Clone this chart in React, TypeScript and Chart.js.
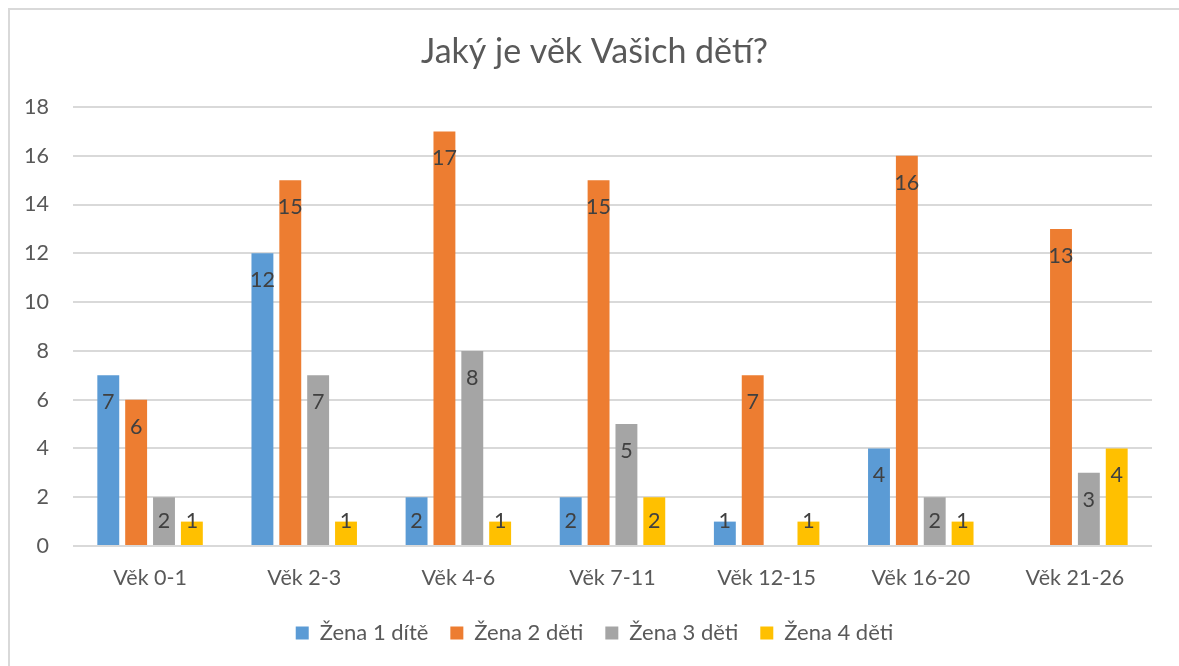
import React, { useEffect, useRef } from 'react';
import { Chart, registerables } from 'chart.js';

Chart.register(...registerables);

const chartTitle = 'Jaký je věk Vašich dětí?';
const categories = ['Věk 0-1', 'Věk 2-3', 'Věk 4-6', 'Věk 7-11', 'Věk 12-15', 'Věk 16-20', 'Věk 21-26'];
const seriesNames = ['Žena 1 dítě', 'Žena 2 děti', 'Žena 3 děti', 'Žena 4 děti'];
const zena1 = [7, 12, 2, 2, 1, 4, null];
const zena2 = [6, 15, 17, 15, 7, 16, 13];
const zena3 = [2, 7, 8, 5, null, 2, 3];
const zena4 = [1, 1, 1, 2, 1, 1, 4];
const seriesColors = ['#5B9BD5', '#ED7D31', '#A5A5A5', '#FFC000'];
const yMin = 0;
const yMax = 18;
const yStep = 2;

const FONT = 'Lato';
const TEXT = '#595959';
const LABEL = '#404040';
const GRID = '#d9d9d9';

const barLabels = {
  id: 'barLabels',
  afterDatasetsDraw(chart: any) {
    const ctx = chart.ctx;
    const base = chart.scales.y.getPixelForValue(0);
    ctx.save();
    ctx.font = `21.5px ${FONT}`;
    ctx.fillStyle = LABEL;
    ctx.textAlign = 'center';
    ctx.textBaseline = 'middle';
    chart.data.datasets.forEach((ds: any, i: number) => {
      const meta = chart.getDatasetMeta(i);
      meta.data.forEach((bar: any, j: number) => {
        const v = ds.data[j];
        if (v === null || v === undefined) return;
        const y = Math.min(bar.y + 27, base - 25);
        ctx.fillText(String(v), bar.x, y);
      });
    });
    ctx.restore();
  },
};

export default function App() {
  const ref = useRef<HTMLCanvasElement | null>(null);
  useEffect(() => {
    document.documentElement.style.overflow = 'hidden';
    document.body.style.overflow = 'hidden';
    if (!ref.current) return;
    const all = [zena1, zena2, zena3, zena4];
    const chart = new Chart(ref.current, {
      type: 'bar',
      data: {
        labels: categories,
        datasets: all.map((d, i) => ({
          label: seriesNames[i],
          data: d,
          backgroundColor: seriesColors[i],
          borderWidth: 0,
          categoryPercentage: 0.723,
          barPercentage: 0.786,
        })),
      },
      options: {
        animation: false,
        responsive: false,
        devicePixelRatio: 1,
        layout: { padding: { left: 0, right: 0, top: 0, bottom: 12 } },
        plugins: {
          title: {
            display: true,
            text: chartTitle,
            color: TEXT,
            font: { family: FONT, size: 34, weight: 'normal' as any },
            padding: { top: 21.6, bottom: 34.6 },
          },
          legend: {
            position: 'bottom',
            labels: {
              boxWidth: 13,
              boxHeight: 13,
              color: TEXT,
              font: { family: FONT, size: 22 },
              padding: 22,
            },
          },
          tooltip: { enabled: false },
        },
        scales: {
          x: {
            grid: { display: false },
            border: { display: false },
            ticks: { color: TEXT, font: { family: FONT, size: 21.5 }, padding: 11 },
            afterFit: (s: any) => { s.height = 54; },
          },
          y: {
            min: yMin,
            max: yMax,
            ticks: { stepSize: yStep, color: TEXT, font: { family: FONT, size: 21.5 }, padding: 24 },
            grid: { color: GRID, lineWidth: 2, drawTicks: false },
            border: { display: false },
            afterFit: (s: any) => { s.width = 63; },
          },
          yRightSpace: {
            type: 'linear',
            position: 'right',
            display: true,
            grid: { display: false, drawTicks: false },
            border: { display: false },
            ticks: { display: false },
            afterFit: (s: any) => { s.width = 27; },
          },
        },
      },
      plugins: [barLabels],
    });
    return () => chart.destroy();
  }, []);

  return (
    <div
      style={{
        position: 'fixed',
        left: 8,
        top: 8,
        width: 1171,
        height: 658,
        borderTop: '2px solid #d9d9d9',
        borderLeft: '2px solid #d9d9d9',
        boxSizing: 'border-box',
        background: '#fff',
        overflow: 'hidden',
      }}
    >
      <canvas ref={ref} width={1169} height={656} style={{ display: 'block' }} />
    </div>
  );
}
